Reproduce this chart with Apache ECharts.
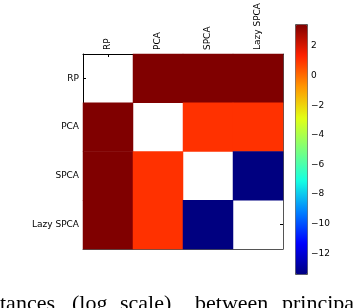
<!DOCTYPE html>
<html><head><meta charset="utf-8">
<script src="https://cdn.jsdelivr.net/npm/echarts@6/dist/echarts.min.js"></script>
<style>html,body{margin:0;padding:0;background:#fff}#c{width:364px;height:308px}</style>
</head><body><div id="c"></div>
<script>
const categories = ['RP', 'PCA', 'SPCA', 'Lazy SPCA'];
// log-scale distances, null on the diagonal (blank cells)
const rowRP       = [null, 3.49, 3.49, 3.49];
const rowPCA      = [3.49, null, 1.1, 1.1];
const rowSPCA     = [3.49, 1.1, null, -13.40];
const rowLazySPCA = [3.49, 1.1, -13.40, null];
const colorMin = -13.40, colorMax = 3.49;
const colorbarTicks = [2, 0, -2, -4, -6, -8, -10, -12];
const captionWords = ['tances', '(log', 'scale)', 'between', 'principa'];
const captionX = [0, 72, 120, 195, 282];

const rows = [rowRP, rowPCA, rowSPCA, rowLazySPCA];
const data = [];
rows.forEach((r, yi) => r.forEach((v, xi) => data.push([xi, yi, v === null ? '-' : v])));

const jet = ['#000080','#0000ff','#0080ff','#14ffe2','#7bff7b','#e2ff14','#ff9700','#ff2100','#800000'];
const font = 'DejaVu Sans';
const lab = {fontFamily: font, fontSize: 9, color: '#000'};

const chart = echarts.init(document.getElementById('c'), null, {renderer: 'canvas'});
chart.setOption({
  animation: false,
  backgroundColor: '#fff',
  grid: [
    {left: 83, top: 49, width: 200, height: 200},
    {left: 295, top: 24, width: 12, height: 250}
  ],
  xAxis: [
    {gridIndex: 0, type: 'category', data: categories, position: 'top',
     axisLine: {show: true, lineStyle: {color: '#000', width: 1}},
     axisTick: {show: true, inside: true, length: 3, alignWithLabel: true, lineStyle: {color: '#000'}},
     axisLabel: Object.assign({rotate: -90, margin: 4}, lab),
     splitLine: {show: false}},
    {gridIndex: 0, type: 'category', data: categories, position: 'bottom',
     axisLine: {show: true, lineStyle: {color: '#555', width: 1}},
     axisTick: {show: true, inside: true, length: 3, alignWithLabel: true, lineStyle: {color: '#000'}},
     axisLabel: {show: false}, splitLine: {show: false}},
    {gridIndex: 1, type: 'category', data: [''], show: false}
  ],
  yAxis: [
    {gridIndex: 0, type: 'category', data: categories, inverse: true, position: 'left',
     axisLine: {show: true, lineStyle: {color: '#000', width: 1}},
     axisTick: {show: true, inside: true, length: 3, alignWithLabel: true, lineStyle: {color: '#000'}},
     axisLabel: Object.assign({margin: 4}, lab), splitLine: {show: false}},
    {gridIndex: 0, type: 'category', data: categories, inverse: true, position: 'right',
     axisLine: {show: true, lineStyle: {color: '#555', width: 1}},
     axisTick: {show: true, inside: true, length: 3, alignWithLabel: true, lineStyle: {color: '#000'}},
     axisLabel: {show: false}, splitLine: {show: false}},
    {gridIndex: 1, type: 'value', position: 'right', min: colorMin, max: colorMax,
     axisLine: {show: false},
     axisTick: {show: true, inside: true, length: 3, customValues: colorbarTicks, lineStyle: {color: '#000'}},
     axisLabel: Object.assign({margin: 4, customValues: colorbarTicks,
       formatter: v => String(v).replace('-', '\u2212')}, lab),
     splitLine: {show: false}}
  ],
  visualMap: {
    type: 'continuous', min: colorMin, max: colorMax, seriesIndex: 0,
    calculable: false, realtime: false, show: true,
    left: 295, top: 24, itemWidth: 12, itemHeight: 250, padding: 0,
    text: ['', ''], showLabel: false,
    borderColor: '#555', borderWidth: 1,
    inRange: {color: jet}
  },
  series: [{
    type: 'heatmap', xAxisIndex: 0, yAxisIndex: 0, data: data,
    itemStyle: {borderWidth: 0}, emphasis: {disabled: true}
  }],
  graphic: captionWords.map((w, i) => ({
    type: 'text', left: captionX[i], top: 293,
    style: {text: w, fontFamily: 'Liberation Serif', fontSize: 22, fill: '#000'}
  }))
});
</script></body></html>
